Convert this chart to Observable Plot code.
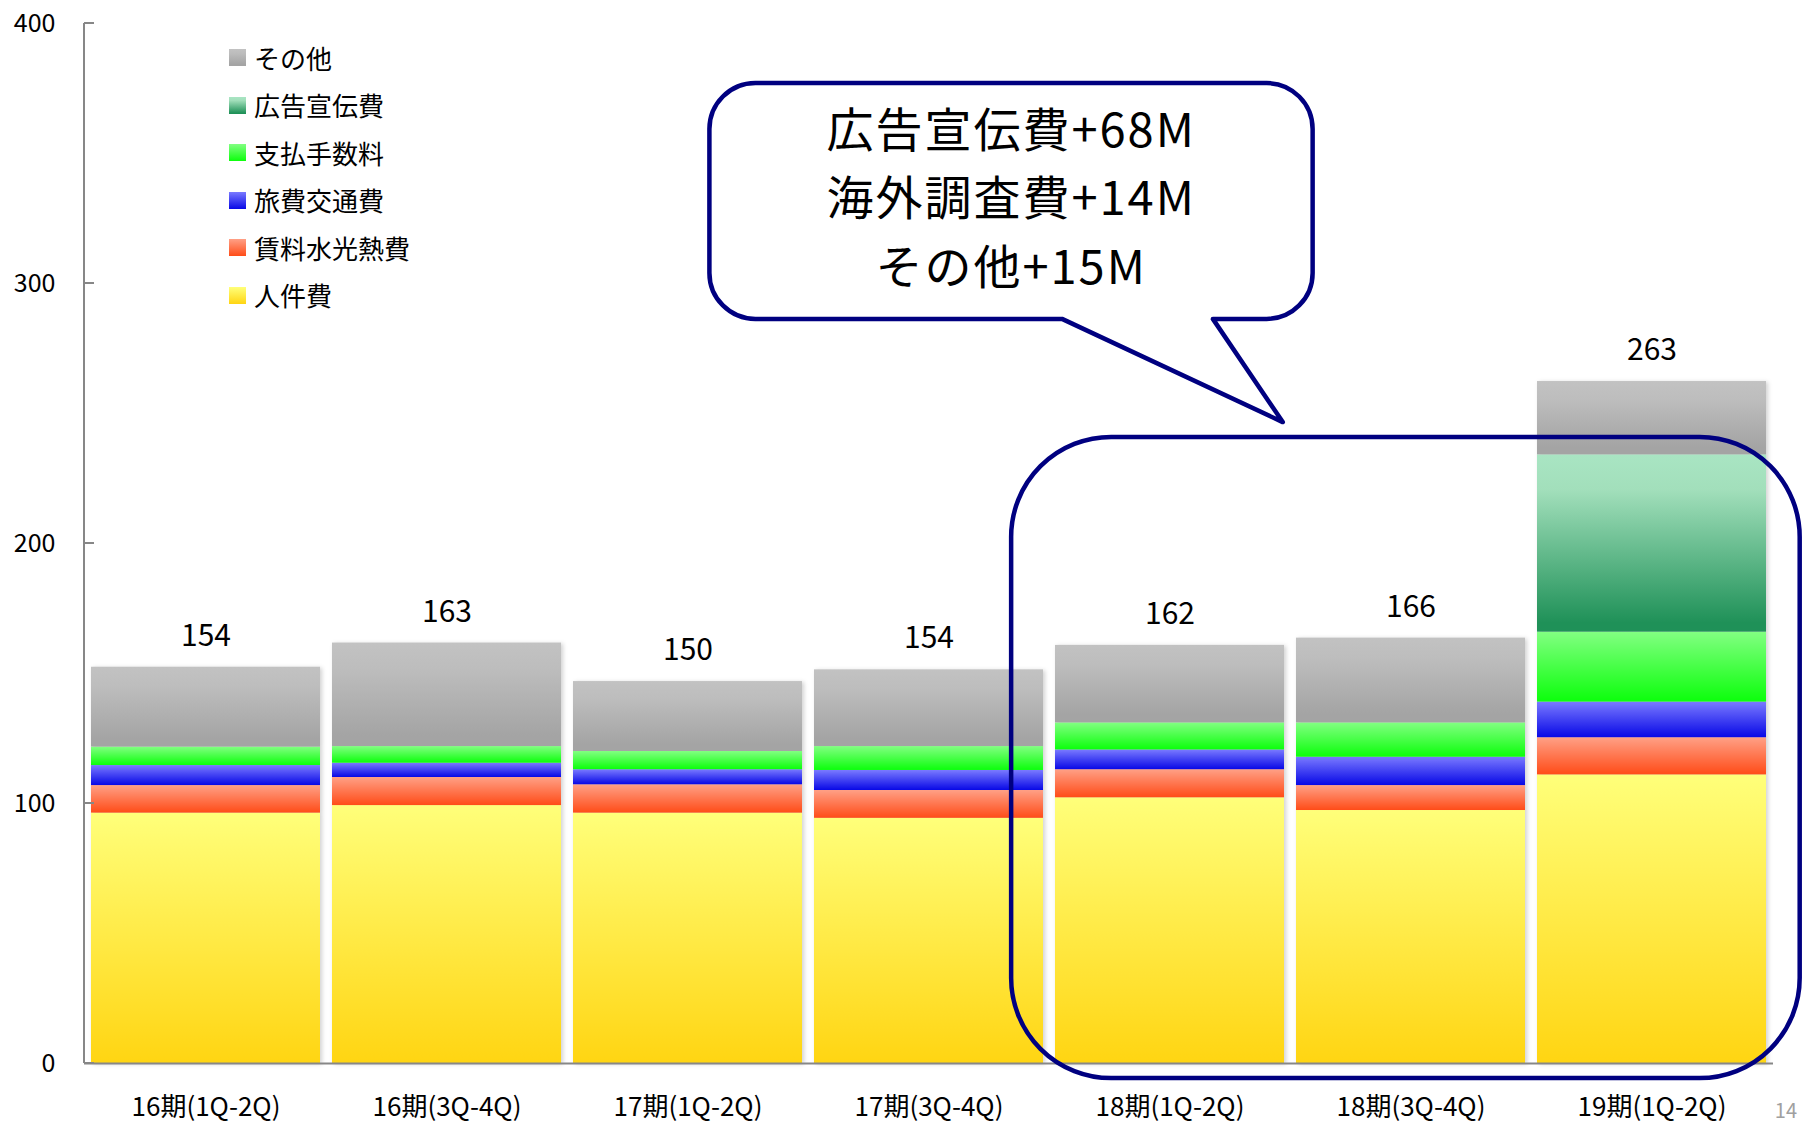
<!DOCTYPE html>
<html><head><meta charset="utf-8">
<script src="https://cdn.jsdelivr.net/npm/d3@7"></script>
<script src="https://cdn.jsdelivr.net/npm/@observablehq/plot@0.6"></script>
<style>
body{margin:0;background:#fff;}
#wrap{position:relative;width:1802px;height:1125px;font-family:"Noto Sans CJK JP","Noto Sans",sans-serif;overflow:hidden;}
#wrap svg{position:absolute;left:0;top:0;}
#legend{position:absolute;left:229px;top:34px;}
.li{display:flex;align-items:center;height:47.5px;font-size:26px;color:#000;line-height:1;}
.sw{width:17px;height:17px;margin-right:8px;}
#page{position:absolute;right:5px;bottom:1px;font-size:20px;color:#a0a0a0;}
g[aria-label="bar"]{filter:drop-shadow(2px 1px 2px rgba(0,0,0,0.18));}
</style></head><body>
<div id="wrap"></div>
<script>
// ---- data ----
const periods = ["16期(1Q-2Q)","16期(3Q-4Q)","17期(1Q-2Q)","17期(3Q-4Q)","18期(1Q-2Q)","18期(3Q-4Q)","19期(1Q-2Q)"];
const items = ["人件費","賃料水光熱費","旅費交通費","支払手数料","広告宣伝費","その他"];
const jinkenhi = [96.3, 99.2, 96.3, 94.3, 102.2, 97.3, 111.0];
const chinryo  = [10.6, 10.8, 10.9, 10.7, 10.8, 9.6, 14.3];
const ryohi    = [7.7, 5.5, 5.8, 7.7, 7.6, 10.9, 13.7];
const shiharai = [7.1, 6.4, 7.0, 9.2, 10.4, 13.2, 26.9];
const kokoku   = [0, 0, 0, 0, 0, 0, 68.2];
const sonota   = [30.7, 39.8, 26.9, 29.5, 29.8, 32.6, 28.2];
const totalLabels = [154, 163, 150, 154, 162, 166, 263];
const yTicks = [0, 100, 200, 300, 400];
const legendOrder = ["その他","広告宣伝費","支払手数料","旅費交通費","賃料水光熱費","人件費"];
const calloutLines = ["広告宣伝費+68M","海外調査費+14M","その他+15M"];
const pageNumber = "14";

// ---- styles ----
const gradients = {
  "人件費":     [[0,"#ffff7a"],[1,"#ffd512"]],
  "賃料水光熱費": [[0,"#ffa086"],[1,"#ff4c18"]],
  "旅費交通費":  [[0,"#7a7aff"],[1,"#0808e6"]],
  "支払手数料":  [[0,"#82ff82"],[1,"#0cff0c"]],
  "広告宣伝費":  [[0,"#a9e5c3"],[0.2,"#a2dfbb"],[0.95,"#1f9158"],[1,"#1f9158"]],
  "その他":     [[0,"#c2c2c2"],[0.25,"#bdbdbd"],[0.9,"#a4a4a4"],[1,"#a4a4a4"]]
};
const gradId = k => "grad" + items.indexOf(k);

// ---- annotation geometry (band units along x, data units along y) ----
const highlightBox = {u0: 3.818, u1: 7.09, v0: -5.8, v1: 240.8, r: 100};
const callout = {u0: 2.566, u1: 5.069, v0: 286.2, v1: 376.9, r: 46,
  base1: 4.029, base2: 4.655, tipU: 4.945, tipV: 246.5,
  textU: 3.818, textV: 358.7, lineStep: 26.35, fontSize: 47, letterSpacing: 2};

const series = [jinkenhi, chinryo, ryohi, shiharai, kokoku, sonota];
const rows = periods.flatMap((p, i) => items.map((it, k) => ({period: p, item: it, value: series[k][i]})));
const tops = periods.map((p, i) => ({period: p, label: String(totalLabels[i]), top: d3.sum(series, s => s[i])}));

const NS = "http://www.w3.org/2000/svg";
function el(tag, attrs) {
  const e = document.createElementNS(NS, tag);
  for (const [k, v] of Object.entries(attrs || {})) e.setAttribute(k, v);
  return e;
}

function defsMark() {
  const g = el("g");
  const defs = el("defs");
  for (const it of items) {
    const lg = el("linearGradient", {id: gradId(it), x1: 0, y1: 0, x2: 0, y2: 1});
    for (const [o, c] of gradients[it]) lg.appendChild(el("stop", {offset: o, "stop-color": c}));
    defs.appendChild(lg);
  }
  g.appendChild(defs);
  return g;
}

function axisLines(index, scales, values, dims) {
  const {y} = scales;
  const g = el("g", {stroke: "#878787", "stroke-width": 2, fill: "none"});
  const x0 = dims.marginLeft;
  g.appendChild(el("line", {x1: x0, x2: x0, y1: y(yTicks[yTicks.length - 1]), y2: y(0)}));
  for (const t of yTicks) g.appendChild(el("line", {x1: x0, x2: x0 + 10, y1: y(t), y2: y(t)}));
  return g;
}

function annotations(index, scales, values, dims) {
  const {x, y} = scales;
  const xs = x(periods[0]);
  const step = x(periods[1]) - x(periods[0]);
  const px = u => xs + u * step;
  const g = el("g");
  // highlight box
  const b = highlightBox;
  g.appendChild(el("rect", {x: px(b.u0), y: y(b.v1), width: px(b.u1) - px(b.u0), height: y(b.v0) - y(b.v1),
    rx: b.r, ry: b.r, fill: "none", stroke: "#000080", "stroke-width": 4.5}));
  // callout bubble
  const c = callout;
  const L = px(c.u0), R = px(c.u1), T = y(c.v1), B = y(c.v0), r = c.r;
  const d = [
    `M${L + r},${T}`, `L${R - r},${T}`, `A${r},${r} 0 0 1 ${R},${T + r}`,
    `L${R},${B - r}`, `A${r},${r} 0 0 1 ${R - r},${B}`,
    `L${px(c.base2)},${B}`, `L${px(c.tipU)},${y(c.tipV)}`, `L${px(c.base1)},${B}`,
    `L${L + r},${B}`, `A${r},${r} 0 0 1 ${L},${B - r}`,
    `L${L},${T + r}`, `A${r},${r} 0 0 1 ${L + r},${T}`, "Z"
  ].join(" ");
  g.appendChild(el("path", {d, fill: "white", stroke: "#000080", "stroke-width": 4.5, "stroke-linejoin": "round"}));
  const lineH = y(0) - y(c.lineStep);
  const tx = el("text", {x: px(c.textU), y: y(c.textV), "text-anchor": "middle", "font-size": c.fontSize,
    "letter-spacing": c.letterSpacing, fill: "#000"});
  calloutLines.forEach((t, i) => {
    const ts = el("tspan", {x: px(c.textU), dy: i === 0 ? "0.35em" : lineH});
    ts.textContent = t;
    tx.appendChild(ts);
  });
  g.appendChild(tx);
  return g;
}

const chart = Plot.plot({
  width: 1802,
  height: 1125,
  marginLeft: 84,
  marginRight: 29,
  marginTop: 23,
  marginBottom: 62,
  style: {fontFamily: '"Noto Sans CJK JP","Noto Sans",sans-serif', background: "transparent", color: "#000"},
  x: {domain: periods, paddingInner: 0.048, paddingOuter: 0.024, label: null},
  y: {domain: [0, 400], label: null},
  color: {domain: items, range: items.map(it => `url(#${gradId(it)})`)},
  marks: [
    defsMark,
    Plot.barY(rows, {x: "period", y: "value", fill: "item", z: "item", order: items}),
    Plot.ruleY([0], {stroke: "#878787", strokeWidth: 2}),
    axisLines,
    Plot.axisY({ticks: yTicks, tickSize: 0, tickPadding: 29, fontSize: 25, fill: "#000"}),
    Plot.axisX({tickSize: 0, tickPadding: 34, fontSize: 26, fill: "#000"}),
    Plot.text(tops, {x: "period", y: "top", text: "label", dy: -31, fontSize: 30, fill: "#000"}),
    annotations
  ]
});

const wrap = document.getElementById("wrap");
wrap.appendChild(chart);

const legend = document.createElement("div");
legend.id = "legend";
for (const it of legendOrder) {
  const row = document.createElement("div");
  row.className = "li";
  const sw = document.createElement("div");
  sw.className = "sw";
  sw.style.background = `linear-gradient(to bottom, ${gradients[it].map(([o, c]) => `${c} ${o * 100}%`).join(", ")})`;
  const tx = document.createElement("span");
  tx.textContent = it;
  row.appendChild(sw);
  row.appendChild(tx);
  legend.appendChild(row);
}
wrap.appendChild(legend);

const page = document.createElement("div");
page.id = "page";
page.textContent = pageNumber;
wrap.appendChild(page);
</script>
</body></html>
